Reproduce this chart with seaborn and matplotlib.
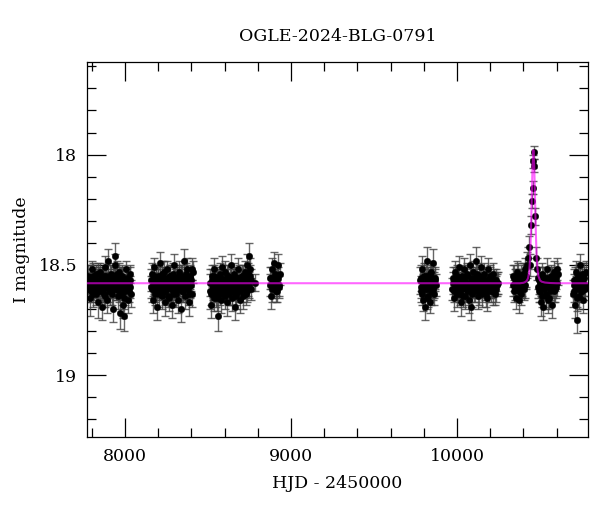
import numpy as np
import pandas as pd
import matplotlib
matplotlib.use("Agg")
import matplotlib.pyplot as plt
import seaborn as sns
from matplotlib.ticker import MultipleLocator

# ---------------- data ----------------
title = "OGLE-2024-BLG-0791"
xlabel = "HJD - 2450000"
ylabel = "I magnitude"

s1_t = [7778, 7783, 7788, 7794, 7799, 7805, 7810, 7816, 7821, 7827,
        7832, 7838, 7843, 7849, 7854, 7860, 7865, 7871, 7876, 7882,
        7887, 7893, 7898, 7904, 7909, 7915, 7920, 7926, 7931, 7937,
        7942, 7948, 7953, 7959, 7964, 7970, 7975, 7981, 7986, 7992,
        7997, 8003, 8008, 8014, 8019, 8025, 8030, 8035]
s1_m = [18.55, 18.61, 18.65, 18.57, 18.52, 18.60, 18.63, 18.56, 18.59, 18.54,
        18.62, 18.67, 18.58, 18.53, 18.61, 18.69, 18.57, 18.55, 18.63, 18.51,
        18.60, 18.66, 18.48, 18.58, 18.62, 18.54, 18.59, 18.70, 18.56, 18.50,
        18.46, 18.61, 18.57, 18.64, 18.53, 18.72, 18.59, 18.55, 18.68, 18.73,
        18.62, 18.57, 18.52, 18.60, 18.66, 18.58, 18.54, 18.63]
s1_e = [0.05, 0.06, 0.08, 0.05, 0.04, 0.05, 0.06, 0.05, 0.05, 0.04,
        0.05, 0.07, 0.05, 0.04, 0.05, 0.06, 0.05, 0.04, 0.06, 0.05,
        0.05, 0.06, 0.05, 0.05, 0.06, 0.04, 0.05, 0.06, 0.05, 0.05,
        0.06, 0.05, 0.05, 0.06, 0.04, 0.07, 0.05, 0.05, 0.06, 0.07,
        0.06, 0.05, 0.04, 0.05, 0.06, 0.05, 0.04, 0.06]
s1b_t = [7780, 7786, 7791, 7797, 7802, 7808, 7813, 7819, 7824, 7830,
         7835, 7841, 7846, 7852, 7857, 7863, 7868, 7874, 7879, 7885,
         7890, 7896, 7901, 7907, 7912, 7918, 7923, 7929, 7934, 7940,
         7945, 7951, 7956, 7962, 7967, 7973, 7978, 7984, 7989, 7995,
         8000, 8006, 8011, 8017, 8022, 8028, 8033]
s1b_m = [18.58, 18.60, 18.56, 18.62, 18.59, 18.55, 18.61, 18.57, 18.63, 18.58,
         18.54, 18.60, 18.57, 18.62, 18.59, 18.56, 18.61, 18.58, 18.64, 18.55,
         18.59, 18.57, 18.62, 18.60, 18.56, 18.58, 18.63, 18.55, 18.60, 18.57,
         18.61, 18.54, 18.59, 18.62, 18.57, 18.60, 18.56, 18.63, 18.58, 18.65,
         18.59, 18.61, 18.56, 18.58, 18.62, 18.57, 18.60]
s1b_e = [0.05, 0.05, 0.06, 0.05, 0.05, 0.06, 0.05, 0.05, 0.05, 0.06,
         0.05, 0.05, 0.06, 0.05, 0.05, 0.05, 0.06, 0.05, 0.05, 0.05,
         0.06, 0.05, 0.05, 0.05, 0.06, 0.05, 0.05, 0.06, 0.05, 0.05,
         0.05, 0.06, 0.05, 0.05, 0.06, 0.05, 0.05, 0.05, 0.06, 0.05,
         0.05, 0.06, 0.05, 0.05, 0.05, 0.06, 0.05]

s2_t = [8155, 8161, 8166, 8172, 8177, 8183, 8188, 8194, 8199, 8205,
        8210, 8216, 8221, 8227, 8232, 8238, 8243, 8249, 8254, 8260,
        8265, 8271, 8276, 8282, 8287, 8293, 8298, 8304, 8309, 8315,
        8320, 8326, 8331, 8337, 8342, 8348, 8353, 8359, 8364, 8370,
        8375, 8381, 8386, 8392, 8397, 8403, 8408]
s2_m = [18.60, 18.54, 18.66, 18.58, 18.51, 18.63, 18.57, 18.69, 18.55, 18.61,
        18.49, 18.59, 18.64, 18.56, 18.53, 18.62, 18.67, 18.58, 18.52, 18.60,
        18.65, 18.55, 18.59, 18.68, 18.54, 18.61, 18.50, 18.57, 18.63, 18.56,
        18.66, 18.53, 18.59, 18.70, 18.55, 18.62, 18.48, 18.58, 18.64, 18.57,
        18.52, 18.61, 18.67, 18.55, 18.59, 18.63, 18.53]
s2_e = [0.05, 0.05, 0.06, 0.05, 0.04, 0.05, 0.05, 0.06, 0.05, 0.05,
        0.05, 0.05, 0.06, 0.05, 0.05, 0.05, 0.06, 0.05, 0.04, 0.05,
        0.06, 0.05, 0.05, 0.06, 0.05, 0.05, 0.05, 0.05, 0.06, 0.05,
        0.06, 0.05, 0.05, 0.06, 0.05, 0.05, 0.05, 0.05, 0.06, 0.05,
        0.05, 0.05, 0.06, 0.05, 0.05, 0.06, 0.05]
s2b_t = [8158, 8163, 8169, 8174, 8180, 8185, 8191, 8196, 8202, 8207,
         8213, 8218, 8224, 8229, 8235, 8240, 8246, 8251, 8257, 8262,
         8268, 8273, 8279, 8284, 8290, 8295, 8301, 8306, 8312, 8317,
         8323, 8328, 8334, 8339, 8345, 8350, 8356, 8361, 8367, 8372,
         8378, 8383, 8389, 8394, 8400, 8405]
s2b_m = [18.57, 18.61, 18.59, 18.55, 18.62, 18.58, 18.60, 18.56, 18.63, 18.59,
         18.57, 18.61, 18.54, 18.60, 18.58, 18.62, 18.56, 18.59, 18.64, 18.57,
         18.60, 18.55, 18.61, 18.58, 18.63, 18.56, 18.59, 18.62, 18.57, 18.60,
         18.55, 18.61, 18.58, 18.56, 18.62, 18.59, 18.57, 18.60, 18.54, 18.61,
         18.58, 18.63, 18.56, 18.59, 18.57, 18.52]
s2b_e = [0.05, 0.06, 0.05, 0.05, 0.05, 0.06, 0.05, 0.05, 0.06, 0.05,
         0.05, 0.05, 0.06, 0.05, 0.05, 0.06, 0.05, 0.05, 0.05, 0.06,
         0.05, 0.05, 0.06, 0.05, 0.05, 0.05, 0.06, 0.05, 0.05, 0.06,
         0.05, 0.05, 0.05, 0.06, 0.05, 0.05, 0.06, 0.05, 0.05, 0.05,
         0.06, 0.05, 0.05, 0.06, 0.05, 0.05]

s3_t = [8512, 8517, 8523, 8528, 8534, 8539, 8545, 8550, 8556, 8561,
        8567, 8572, 8578, 8583, 8589, 8594, 8600, 8605, 8611, 8616,
        8622, 8627, 8633, 8638, 8644, 8649, 8655, 8660, 8666, 8671,
        8677, 8682, 8688, 8693, 8699, 8704, 8710, 8715, 8721, 8726,
        8732, 8737, 8743, 8748, 8754, 8759, 8783]
s3_m = [18.62, 18.68, 18.55, 18.60, 18.65, 18.52, 18.58, 18.63, 18.56, 18.73,
        18.59, 18.54, 18.66, 18.51, 18.61, 18.57, 18.64, 18.53, 18.60, 18.67,
        18.55, 18.58, 18.62, 18.50, 18.65, 18.57, 18.54, 18.69, 18.59, 18.63,
        18.56, 18.52, 18.61, 18.66, 18.58, 18.55, 18.64, 18.60, 18.53, 18.57,
        18.62, 18.50, 18.59, 18.46, 18.55, 18.61, 18.58]
s3_e = [0.08, 0.06, 0.05, 0.05, 0.06, 0.05, 0.05, 0.06, 0.05, 0.07,
        0.05, 0.05, 0.06, 0.05, 0.05, 0.05, 0.06, 0.05, 0.05, 0.06,
        0.05, 0.05, 0.06, 0.05, 0.06, 0.05, 0.05, 0.06, 0.05, 0.05,
        0.05, 0.05, 0.05, 0.06, 0.05, 0.05, 0.06, 0.05, 0.05, 0.05,
        0.05, 0.05, 0.05, 0.06, 0.05, 0.05, 0.04]
s3b_t = [8514, 8520, 8525, 8531, 8536, 8542, 8547, 8553, 8558, 8564,
         8569, 8575, 8580, 8586, 8591, 8597, 8602, 8608, 8613, 8619,
         8624, 8630, 8635, 8641, 8646, 8652, 8657, 8663, 8668, 8674,
         8679, 8685, 8690, 8696, 8701, 8707, 8712, 8718, 8723, 8729,
         8734, 8740, 8745, 8751, 8756]
s3b_m = [18.58, 18.63, 18.57, 18.60, 18.55, 18.62, 18.59, 18.65, 18.57, 18.61,
         18.58, 18.63, 18.56, 18.60, 18.59, 18.62, 18.57, 18.61, 18.55, 18.59,
         18.63, 18.58, 18.60, 18.56, 18.62, 18.59, 18.57, 18.61, 18.64, 18.58,
         18.60, 18.56, 18.62, 18.59, 18.57, 18.61, 18.55, 18.60, 18.58, 18.63,
         18.57, 18.54, 18.59, 18.52, 18.57]
s3b_e = [0.06, 0.05, 0.05, 0.06, 0.05, 0.05, 0.05, 0.06, 0.05, 0.05,
         0.06, 0.05, 0.05, 0.05, 0.06, 0.05, 0.05, 0.06, 0.05, 0.05,
         0.05, 0.06, 0.05, 0.05, 0.06, 0.05, 0.05, 0.05, 0.06, 0.05,
         0.05, 0.06, 0.05, 0.05, 0.05, 0.06, 0.05, 0.05, 0.06, 0.05,
         0.05, 0.05, 0.06, 0.05, 0.05]

s4_t = [8873, 8879, 8885, 8891, 8897, 8903, 8909, 8915, 8921, 8927, 8932]
s4_m = [18.56, 18.64, 18.52, 18.60, 18.49, 18.58, 18.62, 18.55, 18.50, 18.59, 18.54]
s4_e = [0.05, 0.06, 0.05, 0.05, 0.05, 0.05, 0.05, 0.05, 0.05, 0.05, 0.05]
s4b_t = [8876, 8882, 8888, 8894, 8900, 8906, 8912, 8918, 8924, 8930]
s4b_m = [18.59, 18.56, 18.61, 18.57, 18.60, 18.54, 18.58, 18.62, 18.56, 18.60]
s4b_e = [0.05, 0.05, 0.06, 0.05, 0.05, 0.05, 0.06, 0.05, 0.05, 0.05]

s5_t = [9778, 9784, 9789, 9795, 9800, 9806, 9811, 9817, 9822, 9828,
        9833, 9839, 9844, 9850, 9855, 9861, 9866, 9872]
s5_m = [18.57, 18.62, 18.52, 18.66, 18.58, 18.69, 18.55, 18.61, 18.48, 18.64,
        18.57, 18.67, 18.53, 18.60, 18.49, 18.63, 18.56, 18.59]
s5_e = [0.06, 0.05, 0.06, 0.05, 0.05, 0.06, 0.05, 0.05, 0.06, 0.05,
        0.05, 0.05, 0.05, 0.05, 0.06, 0.05, 0.05, 0.05]
s5b_t = [9781, 9786, 9792, 9797, 9803, 9808, 9814, 9819, 9825, 9830,
         9836, 9841, 9847, 9852, 9858, 9863, 9869]
s5b_m = [18.60, 18.56, 18.63, 18.59, 18.55, 18.61, 18.58, 18.65, 18.57, 18.60,
         18.54, 18.62, 18.58, 18.56, 18.61, 18.59, 18.57]
s5b_e = [0.05, 0.06, 0.05, 0.05, 0.06, 0.05, 0.05, 0.05, 0.06, 0.05,
         0.05, 0.06, 0.05, 0.05, 0.05, 0.06, 0.05]

s6_t = [9970, 9976, 9982, 9988, 9994, 10000, 10006, 10012, 10018, 10024,
        10030, 10036, 10042, 10048, 10054, 10060, 10066, 10072, 10078, 10084,
        10090, 10096, 10102, 10108, 10114, 10120, 10126, 10132, 10138, 10144,
        10150, 10156, 10162, 10168, 10174, 10180, 10186, 10192, 10198, 10204,
        10210, 10216, 10222, 10228, 10234, 10240, 10246]
s6_m = [18.61, 18.56, 18.65, 18.53, 18.59, 18.63, 18.57, 18.51, 18.62, 18.67,
        18.55, 18.60, 18.52, 18.64, 18.58, 18.54, 18.61, 18.66, 18.50, 18.69,
        18.57, 18.53, 18.62, 18.56, 18.48, 18.60, 18.64, 18.55, 18.58, 18.51,
        18.63, 18.57, 18.54, 18.61, 18.59, 18.65, 18.52, 18.58, 18.56, 18.62,
        18.60, 18.54, 18.58, 18.63, 18.57, 18.59, 18.58]
s6_e = [0.05, 0.05, 0.06, 0.05, 0.05, 0.06, 0.05, 0.05, 0.05, 0.06,
        0.05, 0.05, 0.05, 0.06, 0.05, 0.05, 0.05, 0.06, 0.05, 0.06,
        0.05, 0.05, 0.05, 0.05, 0.06, 0.05, 0.06, 0.05, 0.05, 0.05,
        0.06, 0.05, 0.05, 0.05, 0.05, 0.06, 0.05, 0.05, 0.05, 0.05,
        0.05, 0.05, 0.05, 0.05, 0.05, 0.05, 0.05]
s6b_t = [9973, 9979, 9985, 9991, 9997, 10003, 10009, 10015, 10021, 10027,
         10033, 10039, 10045, 10051, 10057, 10063, 10069, 10075, 10081, 10087,
         10093, 10099, 10105, 10111, 10117, 10123, 10129, 10135, 10141, 10147,
         10153, 10159, 10165, 10171, 10177, 10183, 10189, 10195, 10201, 10207,
         10213, 10219, 10225, 10231, 10237, 10243]
s6b_m = [18.58, 18.62, 18.57, 18.60, 18.55, 18.61, 18.59, 18.63, 18.56, 18.60,
         18.58, 18.64, 18.57, 18.61, 18.59, 18.55, 18.62, 18.58, 18.60, 18.56,
         18.63, 18.59, 18.57, 18.61, 18.58, 18.54, 18.60, 18.62, 18.57, 18.59,
         18.61, 18.56, 18.60, 18.58, 18.63, 18.57, 18.59, 18.61, 18.55, 18.60,
         18.58, 18.62, 18.57, 18.59, 18.61, 18.58]
s6b_e = [0.05, 0.05, 0.06, 0.05, 0.05, 0.05, 0.06, 0.05, 0.05, 0.06,
         0.05, 0.05, 0.05, 0.06, 0.05, 0.05, 0.06, 0.05, 0.05, 0.05,
         0.06, 0.05, 0.05, 0.06, 0.05, 0.05, 0.05, 0.06, 0.05, 0.05,
         0.06, 0.05, 0.05, 0.05, 0.06, 0.05, 0.05, 0.06, 0.05, 0.05,
         0.05, 0.06, 0.05, 0.05, 0.06, 0.05]

s7_t = [10337, 10343, 10349, 10355, 10361, 10367, 10373, 10379, 10385, 10391,
        10397, 10403, 10409, 10415, 10421, 10428, 10434, 10441, 10448, 10453,
        10455, 10458, 10461, 10464, 10470, 10476, 10482, 10487, 10493, 10499,
        10505, 10511, 10517, 10523, 10529, 10535, 10541, 10547, 10553, 10559,
        10565, 10571, 10577, 10583, 10589, 10595, 10601, 10607]
s7_m = [18.55, 18.62, 18.58, 18.65, 18.53, 18.60, 18.66, 18.57, 18.63, 18.59,
        18.54, 18.61, 18.52, 18.56, 18.50, 18.47, 18.42, 18.50, 18.32, 18.21,
        18.15, 18.03, 17.99, 18.05, 18.28, 18.47, 18.52, 18.56, 18.62, 18.58,
        18.67, 18.54, 18.69, 18.60, 18.56, 18.64, 18.52, 18.66, 18.59, 18.62,
        18.55, 18.68, 18.57, 18.53, 18.61, 18.56, 18.52, 18.54]
s7_e = [0.05, 0.05, 0.06, 0.05, 0.05, 0.05, 0.06, 0.05, 0.05, 0.05,
        0.05, 0.05, 0.05, 0.05, 0.06, 0.05, 0.05, 0.05, 0.04, 0.03,
        0.03, 0.03, 0.03, 0.03, 0.04, 0.05, 0.05, 0.05, 0.05, 0.05,
        0.06, 0.05, 0.06, 0.05, 0.05, 0.06, 0.05, 0.06, 0.05, 0.05,
        0.05, 0.06, 0.05, 0.05, 0.06, 0.05, 0.05, 0.05]
s7b_t = [10340, 10346, 10352, 10358, 10364, 10370, 10376, 10382, 10388, 10394,
         10400, 10406, 10412, 10418, 10490, 10496, 10502, 10508, 10514, 10520,
         10526, 10532, 10538, 10544, 10550, 10556, 10562, 10568, 10574, 10580,
         10586, 10592, 10598, 10604]
s7b_m = [18.59, 18.56, 18.61, 18.57, 18.60, 18.55, 18.62, 18.58, 18.56, 18.60,
         18.57, 18.54, 18.59, 18.55, 18.60, 18.57, 18.62, 18.59, 18.64, 18.57,
         18.61, 18.58, 18.63, 18.56, 18.60, 18.65, 18.58, 18.61, 18.56, 18.59,
         18.62, 18.57, 18.60, 18.58]
s7b_e = [0.05, 0.06, 0.05, 0.05, 0.05, 0.06, 0.05, 0.05, 0.06, 0.05,
         0.05, 0.05, 0.06, 0.05, 0.05, 0.06, 0.05, 0.05, 0.05, 0.06,
         0.05, 0.05, 0.06, 0.05, 0.05, 0.05, 0.06, 0.05, 0.05, 0.06,
         0.05, 0.05, 0.05, 0.06]

s8_t = [10700, 10705, 10710, 10715, 10720, 10725, 10730, 10735, 10740, 10745,
        10750, 10755, 10760, 10765, 10770, 10775]
s8_m = [18.63, 18.57, 18.68, 18.53, 18.75, 18.60, 18.55, 18.64, 18.50, 18.58,
        18.62, 18.54, 18.66, 18.56, 18.59, 18.53]
s8_e = [0.06, 0.05, 0.06, 0.05, 0.06, 0.05, 0.05, 0.06, 0.05, 0.05,
        0.05, 0.05, 0.06, 0.05, 0.05, 0.05]
s8b_t = [10702, 10707, 10712, 10717, 10722, 10727, 10732, 10737, 10742, 10747,
         10752, 10757, 10762, 10767, 10772]
s8b_m = [18.59, 18.62, 18.57, 18.60, 18.65, 18.56, 18.61, 18.58, 18.55, 18.62,
         18.57, 18.60, 18.59, 18.54, 18.61]
s8b_e = [0.05, 0.05, 0.06, 0.05, 0.06, 0.05, 0.05, 0.05, 0.06, 0.05,
         0.05, 0.06, 0.05, 0.05, 0.05]

model_t = [7770, 10380, 10400, 10410, 10420, 10428, 10435, 10440, 10445, 10450,
           10455, 10460, 10465, 10470, 10475, 10480, 10485, 10490, 10500, 10510,
           10530, 10560, 10600, 10790]
model_m = [18.583, 18.583, 18.581, 18.578, 18.572, 18.56, 18.53, 18.47, 18.36, 18.20,
           18.05, 17.98, 18.05, 18.20, 18.36, 18.47, 18.52, 18.55, 18.57, 18.576,
           18.58, 18.582, 18.583, 18.583]

x_range = (7771, 10789)
y_range = (19.28, 17.58)

# ---------------- build tables ----------------
obs = pd.DataFrame({
    "t": (s1_t + s1b_t + s2_t + s2b_t + s3_t + s3b_t + s4_t + s4b_t
          + s5_t + s5b_t + s6_t + s6b_t + s7_t + s7b_t + s8_t + s8b_t),
    "m": (s1_m + s1b_m + s2_m + s2b_m + s3_m + s3b_m + s4_m + s4b_m
          + s5_m + s5b_m + s6_m + s6b_m + s7_m + s7b_m + s8_m + s8b_m),
    "e": (s1_e + s1b_e + s2_e + s2b_e + s3_e + s3b_e + s4_e + s4b_e
          + s5_e + s5b_e + s6_e + s6b_e + s7_e + s7b_e + s8_e + s8b_e),
})
model = pd.DataFrame({"t": model_t, "m": model_m})

# ---------------- plot ----------------
sns.set_theme(style="ticks")
plt.rcParams["font.family"] = ["DejaVu Serif"]
plt.rcParams["mathtext.fontset"] = "dejavuserif"

fig = plt.figure(figsize=(6.0, 5.12), dpi=100)
ax = fig.add_axes([0.145, 0.1465, 0.835, 0.7325])

eb = ax.errorbar(obs["t"], obs["m"], yerr=obs["e"], fmt="none",
                 ecolor=(0.25, 0.25, 0.25, 0.8), elinewidth=1.0, capsize=2.6,
                 capthick=1.0, zorder=2)
for cl in eb[1]:
    cl.set_color("black")
sns.scatterplot(data=obs, x="t", y="m", ax=ax, color="black", s=22,
                edgecolor="black", linewidth=0.3, zorder=3, legend=False)
sns.lineplot(data=model, x="t", y="m", ax=ax, color="#ff00ff", alpha=0.6,
             linewidth=1.5, zorder=4, estimator=None, sort=False)

ax.set_xlim(*x_range)
ax.set_ylim(*y_range)
ax.xaxis.set_major_locator(MultipleLocator(1000))
ax.xaxis.set_minor_locator(MultipleLocator(200))
ax.yaxis.set_major_locator(MultipleLocator(0.5))
ax.yaxis.set_minor_locator(MultipleLocator(0.1))
ax.yaxis.set_major_formatter(plt.FuncFormatter(lambda v, p: f"{v:g}"))

ax.tick_params(which="both", direction="in", top=True, right=True,
               width=0.9, colors="black", labelsize=12.5)
ax.tick_params(which="major", length=13.5)
ax.tick_params(which="minor", length=6.8)
ax.tick_params(axis="x", which="major", pad=8)
ax.tick_params(axis="y", which="major", pad=7)
for sp in ax.spines.values():
    sp.set_linewidth(0.9)
    sp.set_color("black")

ax.set_xlabel(xlabel, fontsize=12.5, labelpad=7, color="black")
ax.set_ylabel(ylabel, fontsize=12.5, labelpad=6, color="black")
ax.set_title(title, fontsize=12.5, pad=15, color="black")

fig.savefig("out.png", dpi=100)
